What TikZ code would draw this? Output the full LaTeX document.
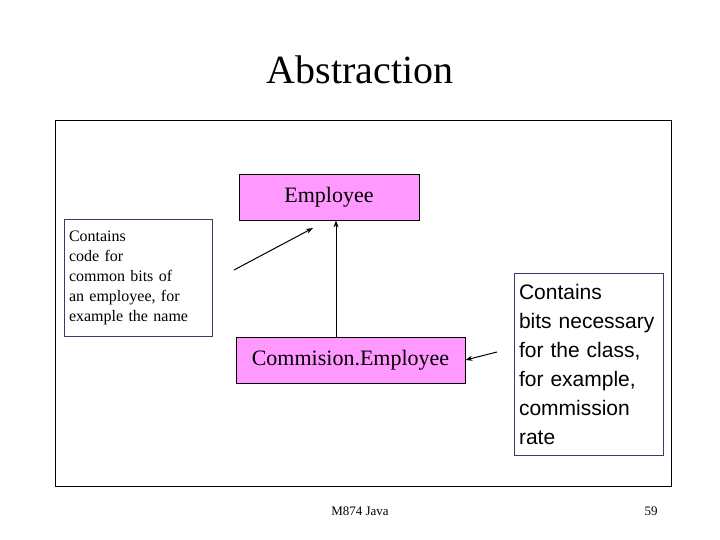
\documentclass[tikz,border=0pt]{standalone}
\usepackage{fontspec}
\setmainfont{Liberation Serif}
\newfontfamily\arialf{Liberation Sans}
\usetikzlibrary{arrows.meta}
\definecolor{pinkbox}{HTML}{FF99FF}
\definecolor{notebd}{HTML}{3A3A6A}
\begin{document}
\begin{tikzpicture}[x=1pt,y=-1pt,
  cls/.style={draw=black,fill=pinkbox,line width=0.8pt,inner sep=0pt},
  note/.style={draw=notebd,line width=0.7pt,inner sep=0pt,align=left},
  arr/.style={line width=1pt,-{Stealth[length=7pt,width=5pt]}}]
\useasboundingbox (0,0) rectangle (720,540);
\node[font=\fontsize{40}{44}\selectfont] (title) at (360,70) {Abstraction};
\draw[line width=0.8pt] (55,120) rectangle (671,486);
\node[cls,minimum width=180pt,minimum height=46pt,font=\fontsize{22}{24}\selectfont] (emp) at (329,197) {Employee};
\node[cls,minimum width=229pt,minimum height=46pt,font=\fontsize{22}{24}\selectfont] (com) at (350.5,360) {Commision.Employee};
\node[note,minimum width=148pt,minimum height=117pt,text width=138pt,font=\fontsize{16}{20}\selectfont] (ln) at (138,277.5) {Contains\\code for\\common bits of\\an employee, for\\example the name};
\node[note,minimum width=149pt,minimum height=182pt,text width=139pt,font=\arialf\fontsize{21}{29}\selectfont] (rn) at (588.5,364) {Contains\\bits necessary\\for the class,\\for example,\\commission\\rate};
\coordinate (la) at (234,270);
\coordinate (lb) at (313,228);
\coordinate (ra) at (497,352);
\draw[arr] (la) -- (lb);
\draw[arr] (com.north -| 336,0) -- (emp.south -| 336,0);
\draw[arr] (ra) -- (com.east);
\node[font=\fontsize{13}{15}\selectfont] (foot) at (360,511) {M874 Java};
\node[font=\fontsize{13}{15}\selectfont] (num) at (651,511) {59};
\end{tikzpicture}
\end{document}
